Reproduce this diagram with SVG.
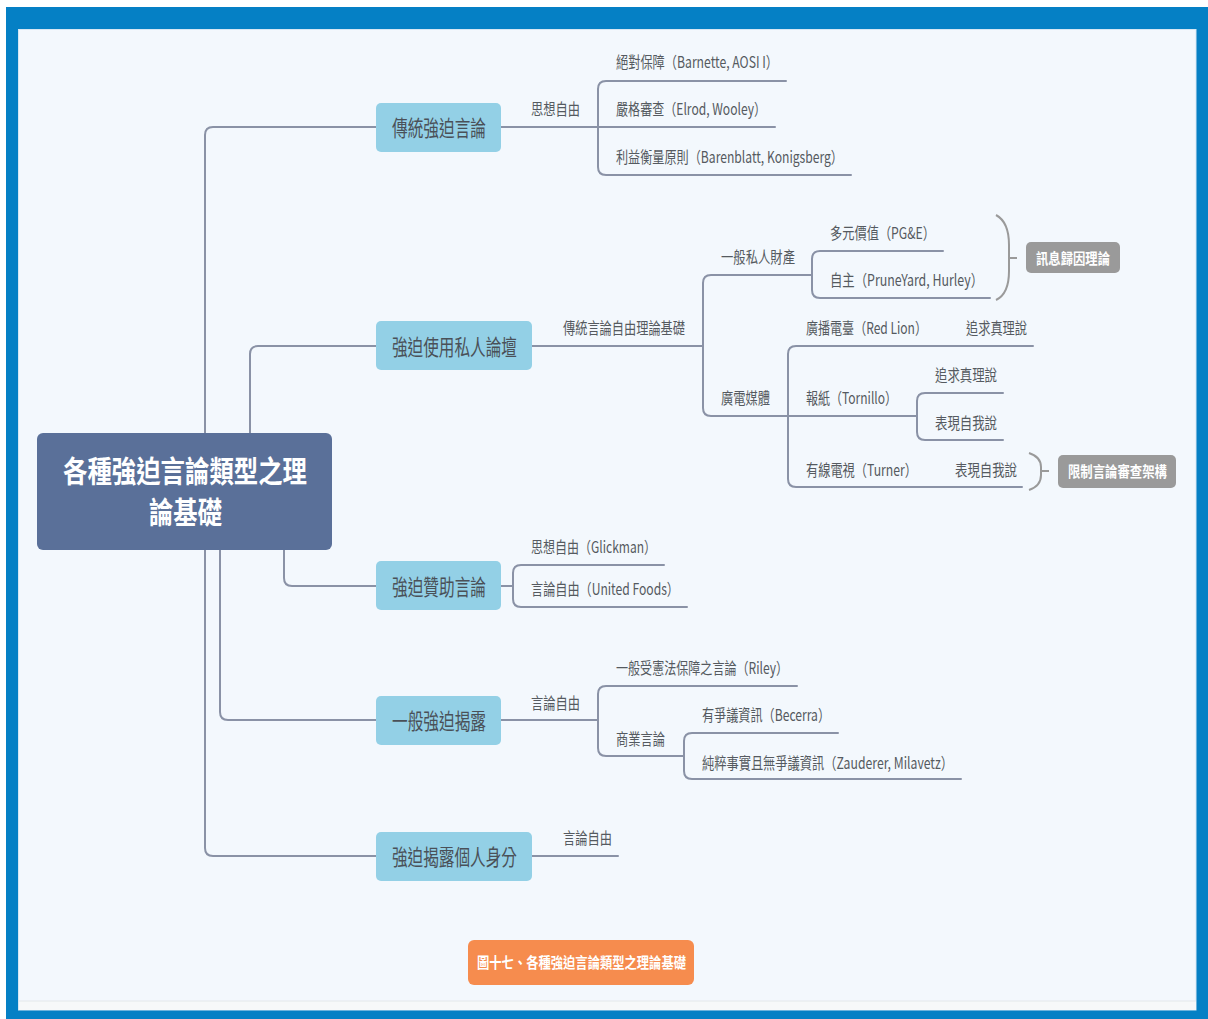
<svg xmlns="http://www.w3.org/2000/svg" width="1208" height="1019" viewBox="0 0 1208 1019">
  <defs>
    <style>
      .frame { fill: #0580c5; }
      .canvas { fill: #f3f8fd; stroke: #d6e6f3; stroke-width: 1; }
      .link { fill: none; stroke: #8a92a6; stroke-width: 2; stroke-linecap: round; }
      .brace { fill: none; stroke: #9a9a9a; stroke-width: 2; }
      .topic { fill: #93d0e6; }
      .root { fill: #5a7099; }
      .tag { fill: #9a9a9a; }
      .caption { fill: #f68c4e; }
      text { font-family: "Noto Sans CJK TC", "Noto Sans", "Liberation Sans", sans-serif; dominant-baseline: central; }
      .t-root { font-size: 30px; font-weight: bold; fill: #ffffff; }
      .t-topic { font-size: 22px; fill: #4a5058; }
      .t-lbl { font-size: 16px; fill: #555a60; }
      .t-tag { font-size: 15px; font-weight: bold; fill: #ffffff; }
    </style>
  </defs>

  <!-- outer frame and canvas -->
  <rect class="frame" x="6" y="7" width="1202" height="1012"/>
  <rect class="canvas" x="18.5" y="29.5" width="1177.5" height="980.5"/>
  <rect x="19" y="1001" width="1177" height="9" fill="#f7f8f9"/>
  <line x1="19" y1="1001" x2="1196" y2="1001" stroke="#e4e7ea" stroke-width="1"/>

  <!-- connectors -->
  <g id="connectors">
    <path class="link" d="M205,433 V135 Q205,127 213,127 H376"/>
    <path class="link" d="M250,433 V354 Q250,346 258,346 H376"/>
    <path class="link" d="M284,550 V578 Q284,586 292,586 H376"/>
    <path class="link" d="M220,550 V712 Q220,720 228,720 H376"/>
    <path class="link" d="M205,550 V848 Q205,856 213,856 H376"/>

    <path class="link" d="M501,127 H598"/>
    <path class="link" d="M786,81 H606 Q598,81 598,89 V167 Q598,175 606,175 H851"/>
    <path class="link" d="M598,127 H775"/>

    <path class="link" d="M532,346 H703"/>
    <path class="link" d="M812,275 H711 Q703,275 703,283 V408 Q703,416 711,416 H788"/>
    <path class="link" d="M943,251 H820 Q812,251 812,259 V290 Q812,298 820,298 H990"/>
    <path class="link" d="M1033,346 H796 Q788,346 788,354 V479 Q788,487 796,487 H1022"/>
    <path class="link" d="M788,416 H917"/>
    <path class="link" d="M1003,393 H925 Q917,393 917,401 V432 Q917,440 925,440 H1003"/>

    <path class="link" d="M501,586 H513"/>
    <path class="link" d="M664,565 H521 Q513,565 513,573 V599 Q513,607 521,607 H687"/>

    <path class="link" d="M501,720 H598"/>
    <path class="link" d="M797,686 H606 Q598,686 598,694 V748 Q598,756 606,756 H684"/>
    <path class="link" d="M838,733 H692 Q684,733 684,741 V771 Q684,779 692,779 H961"/>

    <path class="link" d="M532,856 H618"/>

    <path class="brace" d="M996,215 Q1009,222 1009,245 L1009,271 Q1009,294 996,300"/>
    <path class="brace" d="M1009,258 H1017"/>
    <path class="brace" d="M1029,453 Q1041,457 1041,467 L1041,475 Q1041,486 1029,490"/>
    <path class="brace" d="M1041,471 H1049"/>
  </g>

  <!-- central topic -->
  <g id="root">
    <rect class="root" x="37" y="433" width="295" height="117" rx="6"/>
    <text class="t-root" x="63" y="469" textLength="244" lengthAdjust="spacingAndGlyphs">各種強迫言論類型之理</text>
    <text class="t-root" x="149" y="510" textLength="73" lengthAdjust="spacingAndGlyphs">論基礎</text>
  </g>

  <!-- main topics -->
  <g id="topic-traditional">
    <rect class="topic" x="376" y="103" width="125" height="49" rx="5"/>
    <text class="t-topic" x="392" y="125.5" textLength="94" lengthAdjust="spacingAndGlyphs">傳統強迫言論</text>
  </g>
  <g id="topic-forum">
    <rect class="topic" x="376" y="321" width="156" height="49" rx="5"/>
    <text class="t-topic" x="392" y="344.5" textLength="125" lengthAdjust="spacingAndGlyphs">強迫使用私人論壇</text>
  </g>
  <g id="topic-subsidy">
    <rect class="topic" x="376" y="561" width="125" height="49" rx="5"/>
    <text class="t-topic" x="392" y="584.5" textLength="94" lengthAdjust="spacingAndGlyphs">強迫贊助言論</text>
  </g>
  <g id="topic-disclosure">
    <rect class="topic" x="376" y="696" width="125" height="49" rx="5"/>
    <text class="t-topic" x="392" y="718.5" textLength="94" lengthAdjust="spacingAndGlyphs">一般強迫揭露</text>
  </g>
  <g id="topic-identity">
    <rect class="topic" x="376" y="832" width="156" height="49" rx="5"/>
    <text class="t-topic" x="392" y="854.5" textLength="125" lengthAdjust="spacingAndGlyphs">強迫揭露個人身分</text>
  </g>

  <!-- branch: traditional compelled speech -->
  <g id="b1-thought"><text class="t-lbl" x="531" y="108" textLength="49" lengthAdjust="spacingAndGlyphs">思想自由</text></g>
  <g id="b1-absolute"><text class="t-lbl" x="616" y="61" textLength="162" lengthAdjust="spacingAndGlyphs">絕對保障（Barnette, AOSI I）</text></g>
  <g id="b1-strict"><text class="t-lbl" x="616" y="108" textLength="150" lengthAdjust="spacingAndGlyphs">嚴格審查（Elrod, Wooley）</text></g>
  <g id="b1-balance"><text class="t-lbl" x="616" y="156" textLength="227" lengthAdjust="spacingAndGlyphs">利益衡量原則（Barenblatt, Konigsberg）</text></g>

  <!-- branch: private forum -->
  <g id="b2-basis"><text class="t-lbl" x="563" y="327" textLength="122" lengthAdjust="spacingAndGlyphs">傳統言論自由理論基礎</text></g>
  <g id="b2-property"><text class="t-lbl" x="721" y="256" textLength="74" lengthAdjust="spacingAndGlyphs">一般私人財產</text></g>
  <g id="b2-pge"><text class="t-lbl" x="830" y="232" textLength="105" lengthAdjust="spacingAndGlyphs">多元價值（PG&amp;E）</text></g>
  <g id="b2-autonomy"><text class="t-lbl" x="830" y="279" textLength="153" lengthAdjust="spacingAndGlyphs">自主（PruneYard, Hurley）</text></g>
  <g id="b2-media"><text class="t-lbl" x="721" y="397" textLength="49" lengthAdjust="spacingAndGlyphs">廣電媒體</text></g>
  <g id="b2-radio"><text class="t-lbl" x="806" y="327" textLength="121" lengthAdjust="spacingAndGlyphs">廣播電臺（Red Lion）</text></g>
  <g id="b2-radio-truth"><text class="t-lbl" x="966" y="327" textLength="61" lengthAdjust="spacingAndGlyphs">追求真理說</text></g>
  <g id="b2-paper"><text class="t-lbl" x="806" y="397" textLength="91" lengthAdjust="spacingAndGlyphs">報紙（Tornillo）</text></g>
  <g id="b2-paper-truth"><text class="t-lbl" x="935" y="374" textLength="62" lengthAdjust="spacingAndGlyphs">追求真理說</text></g>
  <g id="b2-paper-self"><text class="t-lbl" x="935" y="422" textLength="62" lengthAdjust="spacingAndGlyphs">表現自我說</text></g>
  <g id="b2-cable"><text class="t-lbl" x="806" y="469" textLength="111" lengthAdjust="spacingAndGlyphs">有線電視（Turner）</text></g>
  <g id="b2-cable-self"><text class="t-lbl" x="955" y="469" textLength="62" lengthAdjust="spacingAndGlyphs">表現自我說</text></g>

  <g id="tag-attribution">
    <rect class="tag" x="1026" y="242" width="94" height="31" rx="5"/>
    <text class="t-tag" x="1036" y="257" textLength="74" lengthAdjust="spacingAndGlyphs">訊息歸因理論</text>
  </g>
  <g id="tag-scrutiny">
    <rect class="tag" x="1058" y="455" width="118" height="33" rx="5"/>
    <text class="t-tag" x="1068" y="470" textLength="99" lengthAdjust="spacingAndGlyphs">限制言論審查架構</text>
  </g>

  <!-- branch: compelled subsidy -->
  <g id="b3-glickman"><text class="t-lbl" x="531" y="546" textLength="125" lengthAdjust="spacingAndGlyphs">思想自由（Glickman）</text></g>
  <g id="b3-united"><text class="t-lbl" x="531" y="588" textLength="148" lengthAdjust="spacingAndGlyphs">言論自由（United Foods）</text></g>

  <!-- branch: general compelled disclosure -->
  <g id="b4-speech"><text class="t-lbl" x="531" y="702" textLength="49" lengthAdjust="spacingAndGlyphs">言論自由</text></g>
  <g id="b4-riley"><text class="t-lbl" x="616" y="667" textLength="172" lengthAdjust="spacingAndGlyphs">一般受憲法保障之言論（Riley）</text></g>
  <g id="b4-commercial"><text class="t-lbl" x="616" y="738" textLength="49" lengthAdjust="spacingAndGlyphs">商業言論</text></g>
  <g id="b4-becerra"><text class="t-lbl" x="702" y="714" textLength="128" lengthAdjust="spacingAndGlyphs">有爭議資訊（Becerra）</text></g>
  <g id="b4-zauderer"><text class="t-lbl" x="702" y="762" textLength="251" lengthAdjust="spacingAndGlyphs">純粹事實且無爭議資訊（Zauderer, Milavetz）</text></g>

  <!-- branch: identity disclosure -->
  <g id="b5-speech"><text class="t-lbl" x="563" y="837" textLength="49" lengthAdjust="spacingAndGlyphs">言論自由</text></g>

  <!-- caption -->
  <g id="caption">
    <rect class="caption" x="468" y="940" width="226" height="45" rx="6"/>
    <text class="t-tag" x="477" y="961.5" textLength="209" lengthAdjust="spacingAndGlyphs">圖十七、各種強迫言論類型之理論基礎</text>
  </g>
</svg>
